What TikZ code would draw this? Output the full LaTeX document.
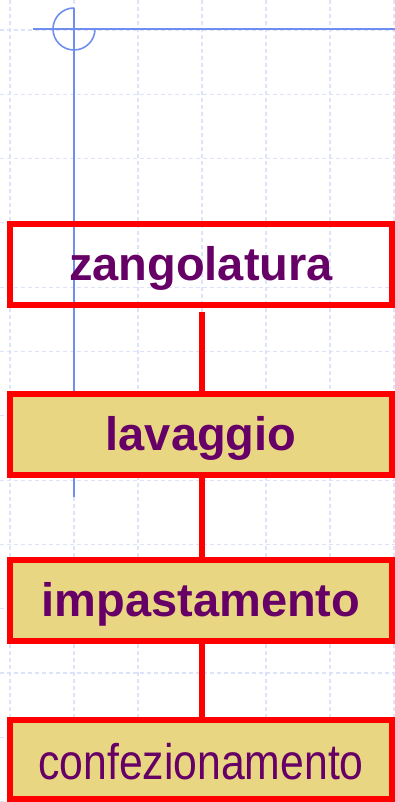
\documentclass[tikz,border=0pt]{standalone}
\usepackage{fontspec}
\setmainfont{Liberation Sans}
\newfontfamily\narrowfont[FakeStretch=0.855]{Liberation Sans}
\usepackage{tikz}

\definecolor{gridblue}{RGB}{220,227,250}
\definecolor{guideblue}{RGB}{112,142,240}
\definecolor{boxred}{RGB}{255,0,0}
\definecolor{boxfill}{RGB}{233,214,130}
\definecolor{labelpurple}{RGB}{102,0,102}

\begin{document}
\begin{tikzpicture}[x=1pt,y=-1pt,
  phase/.style={draw=boxred,line width=6pt,minimum width=382pt,minimum height=81pt,
    inner sep=0pt,text=labelpurple,font=\bfseries\fontsize{47}{50}\selectfont,
    text height=34pt,text depth=3pt},
  filled/.style={fill=boxfill},
  link/.style={draw=boxred,line width=6pt}]
\useasboundingbox (0,0) rectangle (395,802);
\foreach \x in {0,...,6}
  \draw [gridblue,line width=1.2pt,dash pattern=on 4pt off 3pt] (10+64*\x,0) -- (10+64*\x,802);
\foreach \y in {0,...,12}
  \draw [gridblue,line width=1.2pt,dash pattern=on 4pt off 3pt] (0,30+64.3*\y) -- (395,30+64.3*\y);
\draw [guideblue,line width=1.6pt] (33,29) -- (395,29);
\draw [guideblue,line width=1.6pt] (74,8) -- (74,497);
\draw [guideblue,line width=1.6pt] (74,8) arc[start angle=270,end angle=0,radius=21];
\node [phase] (zango) at (201,264.5) {zangolatura};
\node [phase,filled] (lav) at (201,434.5) {lavaggio};
\node [phase,filled] (impa) at (201,600.5) {impastamento};
\node [phase,filled,minimum height=79pt,font=\narrowfont\fontsize{50}{54}\selectfont,
  text height=40pt,text depth=0pt] (conf) at (201,759.5) {confezionamento};
\draw [link] ([xshift=1pt,yshift=-4pt]zango.south) -- ([xshift=1pt]lav.north);
\draw [link] ([xshift=1pt]lav.south) -- ([xshift=1pt]impa.north);
\draw [link] ([xshift=1pt]impa.south) -- ([xshift=1pt]conf.north);
\end{tikzpicture}
\end{document}
